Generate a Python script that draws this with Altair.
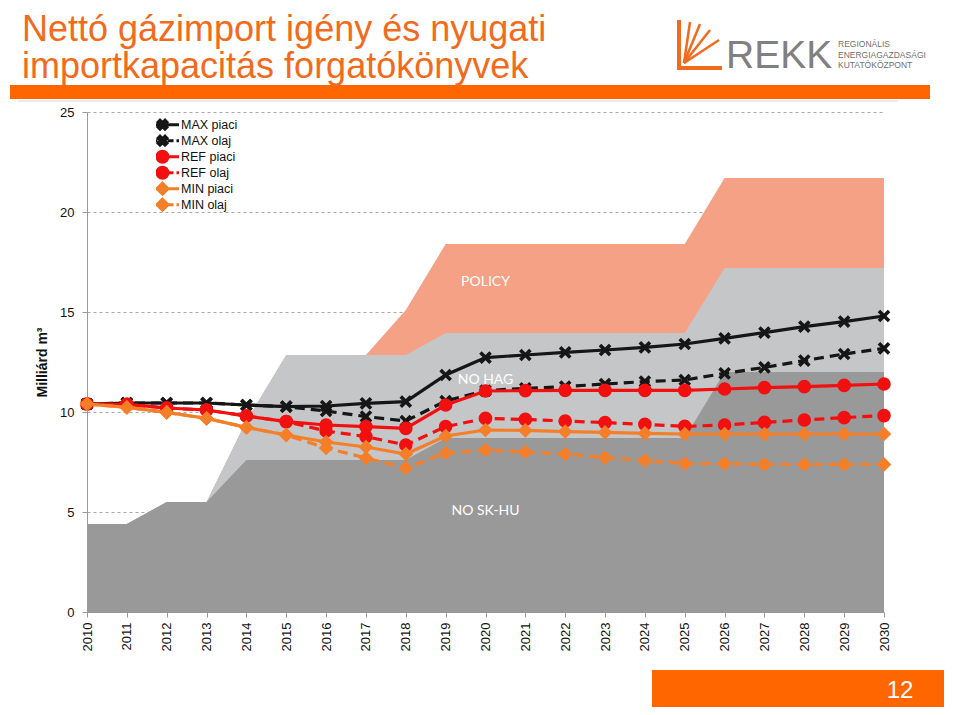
import altair as alt
import pandas as pd

# ---------------- data ----------------
years = list(range(2010, 2031))

max_piaci = [10.4, 10.45, 10.45, 10.45, 10.35, 10.27, 10.3, 10.43, 10.52, 11.85, 12.72,
             12.85, 12.98, 13.1, 13.23, 13.4, 13.68, 13.97, 14.27, 14.52, 14.8]
max_olaj = [10.4, 10.45, 10.45, 10.45, 10.35, 10.27, 10.05, 9.77, 9.55, 10.55, 11.07,
            11.18, 11.27, 11.4, 11.52, 11.6, 11.93, 12.23, 12.57, 12.9, 13.18]
ref_piaci = [10.4, 10.38, 10.2, 10.1, 9.8, 9.52, 9.35, 9.27, 9.18, 10.35, 11.05,
             11.07, 11.08, 11.08, 11.08, 11.08, 11.15, 11.22, 11.27, 11.33, 11.4]
ref_olaj = [10.4, 10.38, 10.2, 10.1, 9.8, 9.52, 9.05, 8.77, 8.35, 9.27, 9.68,
            9.63, 9.55, 9.47, 9.38, 9.28, 9.35, 9.48, 9.6, 9.72, 9.82]
min_piaci = [10.4, 10.23, 9.98, 9.68, 9.23, 8.85, 8.5, 8.25, 7.9, 8.8, 9.1,
             9.08, 9.02, 8.98, 8.93, 8.9, 8.9, 8.9, 8.9, 8.9, 8.9]
min_olaj = [10.4, 10.23, 9.98, 9.68, 9.23, 8.85, 8.2, 7.7, 7.2, 7.95, 8.1,
            8.0, 7.9, 7.72, 7.57, 7.42, 7.42, 7.38, 7.38, 7.38, 7.38]

series_names = ["MAX piaci", "MAX olaj", "REF piaci", "REF olaj", "MIN piaci", "MIN olaj"]
series_values = [max_piaci, max_olaj, ref_piaci, ref_olaj, min_piaci, min_olaj]

# import capacity scenarios (top of each band)
policy_cap = [4.4, 4.4, 5.5, 5.5, 9.55, 12.85, 12.85, 12.85, 15.1, 18.4, 18.4,
              18.4, 18.4, 18.4, 18.4, 18.4, 21.7, 21.7, 21.7, 21.7, 21.7]
nohag_cap = [4.4, 4.4, 5.5, 5.5, 9.55, 12.85, 12.85, 12.85, 12.85, 13.95, 13.95,
             13.95, 13.95, 13.95, 13.95, 13.95, 17.2, 17.2, 17.2, 17.2, 17.2]
nosk_cap = [4.4, 4.4, 5.5, 5.5, 7.6, 7.6, 7.6, 7.6, 7.6, 8.7, 8.7,
            8.7, 8.7, 8.7, 8.7, 8.7, 12.0, 12.0, 12.0, 12.0, 12.0]

area_labels = ["POLICY", "NO HAG", "NO SK-HU"]
area_label_year = [2020, 2020, 2020]
area_label_value = [16.5, 11.6, 5.05]

y_ticks = [0, 5, 10, 15, 20, 25]
y_title = "Milliárd m³"
title_lines = ["Nettó gázimport igény és nyugati", "importkapacitás forgatókönyvek"]
logo_name = "REKK"
logo_lines = ["REGIONÁLIS", "ENERGIAGAZDASÁGI", "KUTATÓKÖZPONT"]
page_number = "12"

# ---------------- styles ----------------
BLACK = "#161616"
RED = "#F20F0F"
ORANGE = "#F57F29"
TITLE_ORANGE = "#F26A1B"
BAR_ORANGE = "#FF6600"
series_colors = [BLACK, BLACK, RED, RED, ORANGE, ORANGE]
series_dashed = [False, True, False, True, False, True]

X_PATH = "M-1,-0.6L-0.6,-1L0,-0.4L0.6,-1L1,-0.6L0.4,0L1,0.6L0.6,1L0,0.4L-0.6,1L-1,0.6L-0.4,0Z"
LX_PATH = "M-0.9,-0.5L-0.5,-0.9L0,-0.4L0.5,-0.9L0.9,-0.5L0.4,0L0.9,0.5L0.5,0.9L0,0.4L-0.5,0.9L-0.9,0.5L-0.4,0Z"
CIRCLE_PATH = "M1.1,0A1.1,1.1 0 1,1 -1.1,0A1.1,1.1 0 1,1 1.1,0Z"
DIAMOND_PATH = "M0,-1.1L1.1,0L0,1.1L-1.1,0Z"
SOLID_SEG = "M-3.3,0H3.3"
DASH_SEG = "M-3.3,0H-1M1,0H2.2M2.8,0H3.3"
legend_marks = [LX_PATH, LX_PATH, CIRCLE_PATH, CIRCLE_PATH, DIAMOND_PATH, DIAMOND_PATH]
legend_paths = [(DASH_SEG if d else SOLID_SEG) + m for d, m in zip(series_dashed, legend_marks)]

plot_marks = [("path", X_PATH, 160), ("path", X_PATH, 160),
              ("circle", None, 185), ("circle", None, 185),
              ("diamond", None, 215), ("diamond", None, 215)]

FONT = "Liberation Sans"
W, H = 797, 500
OX, OY = 87, 112  # plot origin on the page


def ax(x):
    return x - OX


def ay(y):
    return y - OY


x_scale = alt.Scale(domain=[2010, 2030], nice=False, zero=False)
y_scale = alt.Scale(domain=[0, 25], nice=False)

cap_df = pd.DataFrame({"year": years, "policy": policy_cap, "nohag": nohag_cap, "nosk": nosk_cap})

x_axis = alt.Axis(values=years, format="d", labelAngle=270, labelFontSize=13, labelFont=FONT,
                  labelColor="#111", tickSize=5, tickColor="#999", domainColor="#999",
                  labelPadding=5, labelFlush=False, labelOverlap=False, grid=False, title=None)
y_axis = alt.Axis(values=y_ticks, labelFontSize=13, labelFont=FONT, labelColor="#111",
                  tickSize=5, tickColor="#999", domainColor="#999", labelPadding=8,
                  grid=True, gridDash=[3, 3], gridColor="#A8A8A8", title=y_title,
                  titleFont=FONT, titleFontSize=14, titleFontWeight="bold", titleColor="#111",
                  titleX=-45, titleY=250, titleAlign="center", titleBaseline="middle")


def X(field="year"):
    return alt.X(f"{field}:Q", scale=x_scale, axis=x_axis)


def Y(field):
    return alt.Y(f"{field}:Q", scale=y_scale, axis=y_axis)


layers = []
layers.append(alt.Chart(cap_df).mark_area(color="#F4A185", opacity=1).encode(x=X(), y=Y("policy")))
layers.append(alt.Chart(cap_df).mark_area(color="#C5C6C8", opacity=1).encode(x=X(), y=Y("nohag")))
layers.append(alt.Chart(cap_df).mark_area(color="#999999", opacity=1).encode(x=X(), y=Y("nosk")))

lab_df = pd.DataFrame({"label": area_labels, "year": area_label_year, "v": area_label_value})
layers.append(alt.Chart(lab_df).mark_text(font="Lato", fontSize=14, color="white",
                                          align="center", baseline="middle").encode(
    x=X(), y=Y("v"), text="label:N"))

for name, vals, col, dashed, (kind, path, size) in zip(series_names, series_values, series_colors,
                                                       series_dashed, plot_marks):
    df = pd.DataFrame({"year": years, "v": vals})
    line_kw = dict(color=col, strokeWidth=3.2)
    if dashed:
        line_kw["strokeDash"] = [10, 6]
    layers.append(alt.Chart(df).mark_line(**line_kw).encode(x=X(), y=Y("v")))
    shape = path if kind == "path" else kind
    layers.append(alt.Chart(df).mark_point(shape=shape, filled=True, size=size, color=col,
                                           opacity=1).encode(x=X(), y=Y("v")))

# legend (driven by scales only, no visible marks)
leg = alt.Legend(title=None, orient="none", legendX=69, legendY=5, symbolSize=100,
                 symbolStrokeWidth=3, symbolOpacity=1, labelFont=FONT, labelFontSize=12.5,
                 labelColor="#111", labelOffset=12, rowPadding=0, clipHeight=15.4, padding=0)
leg_df = pd.DataFrame({"series": series_names, "year": [2010] * 6, "v": [0] * 6})
layers.append(alt.Chart(leg_df).transform_filter("datum.v > 100").mark_point(
    filled=True, opacity=1).encode(
    x=X(), y=Y("v"),
    shape=alt.Shape("series:N", scale=alt.Scale(domain=series_names, range=legend_paths), legend=leg),
    color=alt.Color("series:N", scale=alt.Scale(domain=series_names, range=series_colors), legend=leg),
    stroke=alt.Stroke("series:N", scale=alt.Scale(domain=series_names, range=series_colors), legend=leg)))

# ---------------- page decoration ----------------
one = pd.DataFrame({"k": [0]})


def deco_text(text, x, y, size, color, font=FONT, weight="normal", align="left", baseline="alphabetic"):
    return alt.Chart(one).mark_text(text=text, align=align, baseline=baseline, fontSize=size,
                                    font=font, fontWeight=weight, color=color).encode(
        x=alt.value(ax(x)), y=alt.value(ay(y)))


def deco_rect(x1, x2, y1, y2, color):
    return alt.Chart(one).mark_rect(color=color).encode(
        x=alt.value(ax(x1)), x2=alt.value(ax(x2)), y=alt.value(ay(y1)), y2=alt.value(ay(y2)))


def deco_rule(x1, y1, x2, y2, color, width):
    return alt.Chart(one).mark_rule(color=color, strokeWidth=width).encode(
        x=alt.value(ax(x1)), x2=alt.value(ax(x2)), y=alt.value(ay(y1)), y2=alt.value(ay(y2)))


layers.append(deco_text(title_lines[0], 22, 41, 36, TITLE_ORANGE))
layers.append(deco_text(title_lines[1], 22, 78, 36, TITLE_ORANGE))
layers.append(deco_rect(10, 930, 85, 99, BAR_ORANGE))
layers.append(deco_rule(18, 101, 898, 101, "#D6D6D6", 1))

# logo
layers.append(deco_rule(679, 20, 679, 70, TITLE_ORANGE, 4))
layers.append(deco_rule(677, 68, 722, 68, TITLE_ORANGE, 4))
for ex, ey in [(690, 22), (700, 24), (710, 30), (719, 40)]:
    layers.append(deco_rule(684, 63, ex, ey, TITLE_ORANGE, 2.5))
layers.append(deco_text(logo_name, 726, 68, 39, "#808080"))
for i, t in enumerate(logo_lines):
    layers.append(deco_text(t, 838, 47 + 10.5 * i, 8.5, "#707070"))

# page number box
layers.append(deco_rect(652, 944, 670, 707, BAR_ORANGE))
layers.append(deco_text(page_number, 900, 691, 24, "white", align="center", baseline="middle"))

chart = alt.layer(*layers).properties(
    width=W, height=H,
    padding={"left": 79, "top": 104, "right": 60, "bottom": 95},
    autosize=alt.AutoSizeParams(type="none"),
    background="white",
).configure_view(stroke=None)

chart.save("out.html", embed_options={"renderer": "svg", "actions": False})
